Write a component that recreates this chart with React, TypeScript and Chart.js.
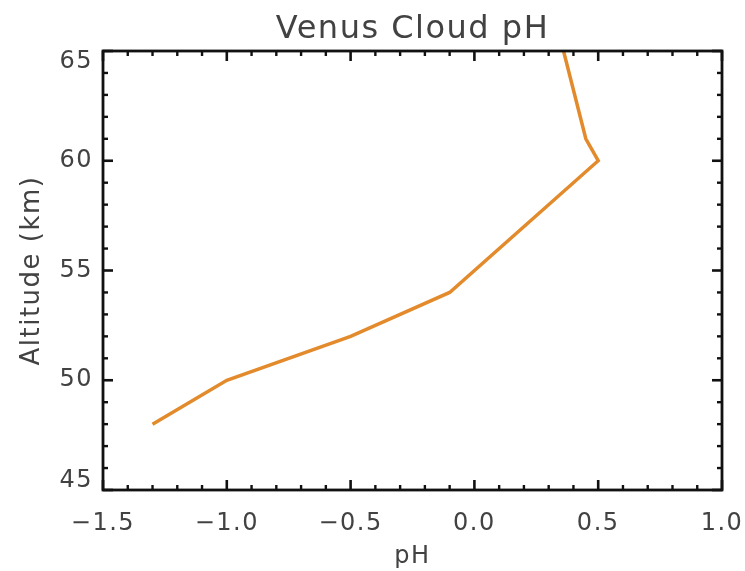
import { useEffect, useRef } from 'react';
import { Chart, registerables } from 'chart.js';

Chart.register(...registerables);

// ---- Data ----
const phValues = [-1.3, -1.0, -0.5, -0.1, 0.5, 0.45, 0.36];
const altitudes = [48, 50, 52, 54, 60, 61, 65];

// ---- Axis ticks ----
const xMajorTicks = [-1.5, -1.0, -0.5, 0.0, 0.5, 1.0];
const xMinorTicks = [-1.4, -1.3, -1.2, -1.1, -0.9, -0.8, -0.7, -0.6, -0.4, -0.3, -0.2, -0.1, 0.1, 0.2, 0.3, 0.4, 0.6, 0.7, 0.8, 0.9];
const yMajorTicks = [45, 50, 55, 60, 65];
const yMinorTicks = [46, 47, 48, 49, 51, 52, 53, 54, 56, 57, 58, 59, 61, 62, 63, 64];

const FONT = 'DejaVu Sans';
const TEXT = '#424242';
const LINE = '#E38B2C';

const formatX = (v: number) => {
  const s = Math.abs(v).toFixed(1);
  return v < -1e-9 ? '\u2212' + s : s;
};

const spacingPlugin = {
  id: 'letterSpacing',
  beforeDraw(chart: any) {
    chart.ctx.letterSpacing = '1.5px';
  },
};

const framePlugin = {
  id: 'idlFrame',
  afterDatasetsDraw(chart: any) {
    const { ctx, chartArea, scales } = chart;
    const { left, right, top, bottom } = chartArea;
    const x = scales.x;
    const y = scales.y;
    ctx.save();
    ctx.strokeStyle = '#111';
    ctx.lineCap = 'butt';
    const tick = (x1: number, y1: number, x2: number, y2: number, w: number) => {
      ctx.lineWidth = w;
      ctx.beginPath();
      ctx.moveTo(x1, y1);
      ctx.lineTo(x2, y2);
      ctx.stroke();
    };
    const major = 10;
    const minor = 5;
    xMajorTicks.forEach((v) => {
      const p = x.getPixelForValue(v);
      tick(p, bottom, p, bottom - major, 2.6);
      tick(p, top, p, top + major, 2.6);
    });
    xMinorTicks.forEach((v) => {
      const p = x.getPixelForValue(v);
      tick(p, bottom, p, bottom - minor, 2.4);
      tick(p, top, p, top + minor, 2.4);
    });
    yMajorTicks.forEach((v) => {
      const p = y.getPixelForValue(v);
      tick(left, p, left + major, p, 2.6);
      tick(right, p, right - major, p, 2.6);
    });
    yMinorTicks.forEach((v) => {
      const p = y.getPixelForValue(v);
      tick(left, p, left + minor, p, 2.4);
      tick(right, p, right - minor, p, 2.4);
    });
    ctx.lineWidth = 2.8;
    ctx.strokeRect(left, top, right - left, bottom - top);
    ctx.restore();
  },
};

export default function App() {
  const canvasRef = useRef<HTMLCanvasElement | null>(null);

  useEffect(() => {
    document.body.style.margin = '0';
    const canvas = canvasRef.current;
    if (!canvas) return;
    const yMin = yMajorTicks[0];
    const yMax = yMajorTicks[yMajorTicks.length - 1];
    const chart = new Chart(canvas, {
      type: 'line',
      data: {
        datasets: [
          {
            label: 'pH',
            data: phValues.map((p, i) => ({ x: p, y: altitudes[i] })),
            borderColor: LINE,
            borderWidth: 3.5,
            pointRadius: 0,
            tension: 0,
            fill: false,
          },
        ],
      },
      options: {
        animation: false,
        responsive: false,
        layout: { padding: { left: 0, right: 23, top: 0, bottom: 0 } },
        plugins: {
          legend: { display: false },
          tooltip: { enabled: false },
          title: {
            display: true,
            text: 'Venus Cloud pH',
            fullSize: false,
            color: TEXT,
            font: { family: FONT, size: 32, weight: 'normal' },
            padding: { top: 10, bottom: 2.6 },
          },
        },
        scales: {
          x: {
            type: 'linear',
            min: xMajorTicks[0],
            max: xMajorTicks[xMajorTicks.length - 1],
            afterBuildTicks: (s: any) => {
              s.ticks = xMajorTicks.map((v) => ({ value: v }));
            },
            afterFit: (s: any) => {
              s.height = 81;
              s.paddingLeft = 0;
              s.paddingRight = 0;
            },
            grid: { display: false, drawTicks: false },
            border: { display: false },
            ticks: {
              autoSkip: false,
              maxRotation: 0,
              padding: 19,
              color: TEXT,
              font: { family: FONT, size: 24 },
              callback: (v: any) => formatX(Number(v)),
            },
            title: {
              display: true,
              text: 'pH',
              color: TEXT,
              font: { family: FONT, size: 24 },
              padding: { top: 0, bottom: 0 },
            },
          },
          y: {
            type: 'linear',
            min: yMin,
            max: yMax,
            afterBuildTicks: (s: any) => {
              s.ticks = yMajorTicks.map((v) => ({ value: v }));
            },
            afterFit: (s: any) => {
              s.width = 103;
              s.paddingTop = 0;
              s.paddingBottom = 0;
            },
            grid: { display: false, drawTicks: false },
            border: { display: false },
            ticks: {
              autoSkip: false,
              padding: 10,
              color: TEXT,
              font: (ctx: any) => {
                const v = ctx.tick ? ctx.tick.value : null;
                let lh: any = 1.2;
                if (v === yMax) lh = '22px';
                if (v === yMin) lh = '18px';
                return { family: FONT, size: 24, lineHeight: lh };
              },
              callback: (v: any) => {
                const n = Number(v);
                if (n === yMax) return ['', String(n)];
                if (n === yMin) return [String(n), ''];
                return String(n);
              },
            },
            title: {
              display: true,
              text: 'Altitude (km)',
              color: TEXT,
              font: { family: FONT, size: 26 },
              padding: { top: 17, bottom: 0 },
            },
          },
        },
      },
      plugins: [spacingPlugin, framePlugin],
    } as any);
    return () => chart.destroy();
  }, []);

  return (
    <div style={{ width: 745, height: 571, background: '#fff' }}>
      <canvas ref={canvasRef} width={745} height={571} style={{ display: 'block' }} />
    </div>
  );
}
